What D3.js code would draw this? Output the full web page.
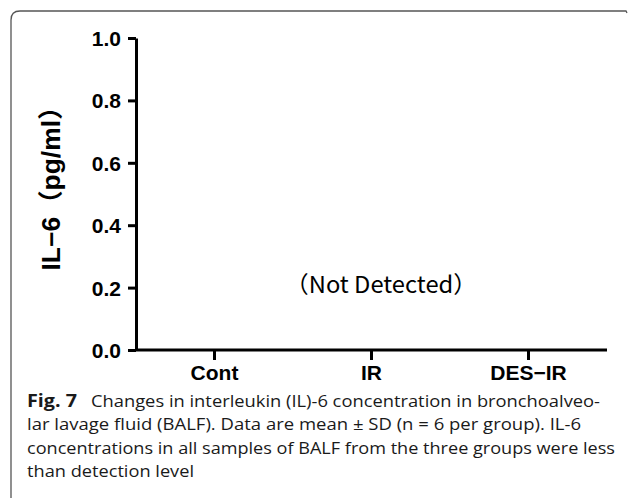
<!DOCTYPE html>
<html>
<head>
<meta charset="utf-8">
<script src="https://cdn.jsdelivr.net/npm/d3@7"></script>
<style>
  body { margin: 0; background: #fff; }
  .tick text { font-family: "Liberation Sans", Arial, sans-serif; font-weight: bold; }
</style>
</head>
<body>
<div id="app"></div>
<script>
// data
const groups = ["Cont", "IR", "DES\u2212IR"];
const il6Values = [null, null, null]; // not detected in any group
const yTicks = [0, 0.2, 0.4, 0.6, 0.8, 1.0];
const captionLines = [
    "Changes in interleukin (IL)-6 concentration in bronchoalveo-",
    "lar lavage fluid (BALF). Data are mean \u00b1 SD (n = 6 per group). IL-6",
    "concentrations in all samples of BALF from the three groups were less",
    "than detection level"
];

const W = 629, H = 500;
const svg = d3.select("#app").append("svg")
    .attr("width", W)
    .attr("height", H);

// frame (top + left, rounded corner)
svg.append("path")
    .attr("d", "M11,498 L11,20 Q11,11 20,11 L626,11 L627,13")
    .attr("fill", "none")
    .attr("stroke", "#555")
    .attr("stroke-width", 1.3);

const x = d3.scaleBand()
    .domain(groups)
    .range([136, 607]);

const y = d3.scaleLinear()
    .domain([0, 1])
    .range([350, 38]);

// Y axis
const yAxis = svg.append("g")
    .attr("transform", "translate(136,0)")
    .call(d3.axisLeft(y).tickValues(yTicks).tickFormat(d3.format(".1f")).tickSize(8).tickSizeOuter(0).tickPadding(7));
yAxis.selectAll("path, line").attr("stroke", "#000").attr("stroke-width", 3);
yAxis.selectAll("text").attr("font-size", 21).attr("fill", "#000").attr("dy", "0.36em");

// X axis
const xAxis = svg.append("g")
    .attr("transform", "translate(0,350)")
    .call(d3.axisBottom(x).tickSize(10).tickSizeOuter(0).tickPadding(5));
xAxis.select(".domain").attr("d", "M136,0H607");
xAxis.selectAll("path, line").attr("stroke", "#000").attr("stroke-width", 3);
xAxis.selectAll("text").attr("font-size", 21).attr("fill", "#000");

// bars (nothing detected)
svg.selectAll("rect.bar")
    .data(il6Values.map((v, i) => ({ g: groups[i], v })).filter(d => d.v != null))
    .join("rect")
        .attr("class", "bar")
        .attr("x", d => x(d.g) + x.bandwidth() * 0.2)
        .attr("y", d => y(d.v))
        .attr("width", x.bandwidth() * 0.6)
        .attr("height", d => y(0) - y(d.v))
        .attr("fill", "#000");

// y label
svg.append("text")
    .attr("transform", "translate(60,182) rotate(-90)")
    .attr("text-anchor", "middle")
    .attr("font-family", "'Liberation Sans', 'Noto Sans CJK JP', sans-serif")
    .attr("font-weight", "bold")
    .attr("font-size", 25)
    .attr("textLength", 177)
    .attr("lengthAdjust", "spacingAndGlyphs")
    .text("IL\u22126\uff08pg/ml\uff09");

// not detected note
svg.append("text")
    .attr("x", 381)
    .attr("y", 293)
    .attr("text-anchor", "middle")
    .attr("font-family", "'Noto Sans CJK JP', sans-serif")
    .attr("font-size", 23)
    .attr("textLength", 192)
    .attr("lengthAdjust", "spacingAndGlyphs")
    .text("\uff08Not Detected\uff09");

// caption
const cap = svg.append("g")
    .attr("font-family", "'Open Sans', sans-serif")
    .attr("font-size", 17)
    .attr("fill", "#1a1a1a");

cap.append("text")
    .attr("x", 27)
    .attr("y", 407)
    .attr("font-weight", "bold")
    .attr("textLength", 50)
    .attr("lengthAdjust", "spacingAndGlyphs")
    .text("Fig. 7");

const lineX = [91, 27, 27, 27];
const lineEnd = [600, 581, 615, 194];
captionLines.forEach((t, i) => {
    cap.append("text")
        .attr("x", lineX[i])
        .attr("y", 407 + i * 23.4)
        .attr("textLength", lineEnd[i] - lineX[i])
        .attr("lengthAdjust", "spacingAndGlyphs")
        .text(t);
});
</script>
</body>
</html>
